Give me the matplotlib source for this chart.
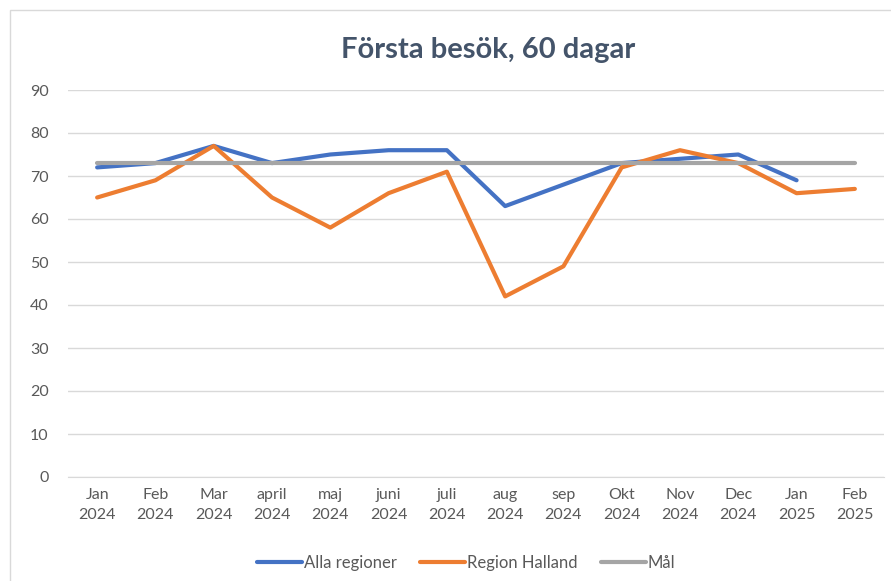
import matplotlib
matplotlib.use("Agg")
import matplotlib.pyplot as plt
from matplotlib.patches import Rectangle
import numpy as np

categories = ["Jan\n2024", "Feb\n2024", "Mar\n2024", "april\n2024", "maj\n2024", "juni\n2024",
              "juli\n2024", "aug\n2024", "sep\n2024", "Okt\n2024", "Nov\n2024", "Dec\n2024",
              "Jan\n2025", "Feb\n2025"]
alla_regioner = [72, 73, 77, 73, 75, 76, 76, 63, 68, 73, 74, 75, 69, np.nan]
region_halland = [65, 69, 77, 65, 58, 66, 71, 42, 49, 72, 76, 73, 66, 67]
mal = [73] * 14

plt.rcParams['font.family'] = ['Lato', 'DejaVu Sans']

fig = plt.figure(figsize=(8.91, 5.81), dpi=100)
fig.patches.append(Rectangle((10/891, -0.1), 1.0, 1 - 10/581 + 0.1, transform=fig.transFigure,
                             fill=False, edgecolor="#D9D9D9", linewidth=1.0))
ax = fig.add_axes([68/891, 1 - 477/581, (884 - 68)/891, (477 - 90)/581])

x = np.arange(len(categories))
ax.plot(x, alla_regioner, color="#4472C4", lw=3, label="Alla regioner", solid_capstyle="round", zorder=3)
ax.plot(x, region_halland, color="#ED7D31", lw=3, label="Region Halland", solid_capstyle="round", zorder=4)
ax.plot(x, mal, color="#A5A5A5", lw=3, label="Mål", solid_capstyle="round", zorder=5)

ax.set_xlim(-0.5, len(categories) - 0.5)
ax.set_ylim(0, 90)
ax.set_yticks(range(0, 91, 10))
ax.set_xticks(x)
ax.set_xticklabels(categories, linespacing=1.5)
ax.grid(axis="y", color="#D9D9D9", lw=1)
ax.set_axisbelow(True)
for s in ["top", "right", "left"]:
    ax.spines[s].set_visible(False)
ax.spines["bottom"].set_color("#D9D9D9")
ax.tick_params(axis="both", length=0, colors="#595959", labelsize=11.5)
ax.tick_params(axis="y", pad=14)
ax.tick_params(axis="x", pad=8)

fig.text(488/891, 1 - 50/581, "Första besök, 60 dagar", ha="center", va="center",
         fontsize=21, fontweight="bold", color="#44546A")

fig.legend(loc="center", bbox_to_anchor=(466/891, 1 - 563/581), ncol=3, frameon=False,
           fontsize=12, labelcolor="#595959", handlelength=2.7, handletextpad=0.1,
           columnspacing=1.4)

fig.savefig("out.png", dpi=100)
